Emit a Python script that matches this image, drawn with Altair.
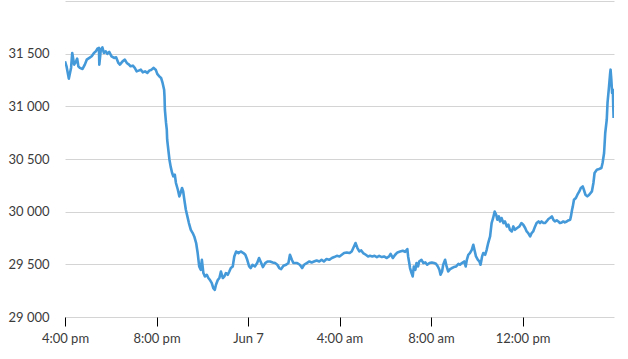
import altair as alt
import pandas as pd

# minutes after 4:00 pm, Jun 6
minutes = [
    0, 4, 10, 16, 19, 24, 29, 32, 35, 39, 46, 52, 57, 64, 70, 76, 81, 85, 89, 90,
    94, 98, 102, 107, 111, 116, 122, 129, 134, 140, 144, 151, 157, 162, 168, 172, 178, 183, 188, 193,
    199, 204, 210, 216, 221, 227, 232, 238, 242, 247, 252, 256, 260, 261, 262, 265, 267, 268, 271, 274,
    277, 281, 284, 288, 291, 296, 300, 303, 307, 310, 313, 317, 321, 325, 330, 335, 339, 344, 348, 352,
    356, 359, 363, 367, 372, 376, 380, 385, 389, 393, 396, 401, 405, 409, 414, 418, 422, 427, 431, 435,
    440, 444, 449, 455, 461, 468, 473, 478, 483, 487, 492, 498, 504, 509, 513, 519, 525, 531, 538, 545,
    551, 557, 562, 567, 573, 580, 586, 590, 595, 599, 603, 609, 616, 622, 627, 634, 641, 647, 653, 660,
    667, 673, 679, 686, 693, 700, 706, 713, 720, 726, 732, 739, 746, 752, 758, 762, 767, 772, 777, 782,
    789, 795, 800, 806, 812, 818, 824, 831, 837, 844, 850, 854, 860, 866, 872, 879, 886, 892, 898, 900,
    903, 905, 909, 912, 915, 919, 922, 926, 929, 935, 940, 945, 950, 956, 962, 968, 973, 978, 982, 985,
    989, 992, 997, 1001, 1005, 1010, 1015, 1020, 1026, 1032, 1036, 1041, 1047, 1051, 1054, 1058, 1062, 1067, 1071, 1075,
    1078, 1083, 1087, 1090, 1094, 1097, 1102, 1106, 1110, 1115, 1119, 1123, 1127, 1131, 1134, 1138, 1141, 1145, 1150, 1154,
    1159, 1163, 1167, 1172, 1176, 1180, 1186, 1192, 1197, 1202, 1207, 1211, 1215, 1220, 1224, 1228, 1233, 1237, 1242, 1246,
    1250, 1255, 1259, 1263, 1268, 1272, 1277, 1281, 1285, 1290, 1294, 1298, 1303, 1307, 1311, 1316, 1320, 1325, 1327, 1330,
    1332, 1335, 1340, 1344, 1349, 1353, 1358, 1361, 1365, 1370, 1375, 1382, 1386, 1389, 1395, 1401, 1407, 1410, 1414, 1417,
    1421, 1423, 1427, 1430, 1431, 1433, 1435, 1437, 1438, 1439,
]

values = [
    31427, 31380, 31263, 31367, 31507, 31396, 31427, 31453, 31380, 31365, 31355, 31396, 31443, 31460, 31475, 31507, 31522, 31548, 31555, 31396,
    31538, 31560, 31507, 31522, 31498, 31517, 31475, 31460, 31465, 31412, 31396, 31427, 31443, 31412, 31396, 31380, 31386, 31365, 31332, 31339,
    31348, 31323, 31332, 31317, 31339, 31348, 31365, 31348, 31308, 31285, 31270, 31222, 31158, 31095, 30968, 30842, 30778, 30683, 30588, 30493,
    30430, 30367, 30335, 30351, 30272, 30208, 30145, 30177, 30225, 30192, 30113, 30018, 29955, 29892, 29828, 29797, 29765, 29702, 29607, 29480,
    29448, 29543, 29417, 29385, 29401, 29370, 29353, 29322, 29275, 29258, 29306, 29353, 29370, 29432, 29370, 29385, 29417, 29401, 29432, 29465,
    29480, 29575, 29622, 29607, 29622, 29607, 29591, 29543, 29480, 29465, 29496, 29480, 29512, 29560, 29527, 29474, 29512, 29527, 29527, 29518,
    29512, 29496, 29465, 29455, 29486, 29496, 29512, 29591, 29543, 29512, 29512, 29512, 29496, 29465, 29496, 29512, 29527, 29518, 29527, 29537,
    29527, 29543, 29527, 29550, 29543, 29560, 29569, 29581, 29575, 29591, 29607, 29613, 29607, 29622, 29670, 29702, 29655, 29622, 29632, 29607,
    29591, 29575, 29581, 29575, 29581, 29569, 29581, 29569, 29575, 29560, 29575, 29600, 29560, 29591, 29613, 29622, 29629, 29619, 29645, 29575,
    29512, 29465, 29417, 29385, 29480, 29448, 29512, 29480, 29527, 29543, 29512, 29518, 29496, 29512, 29518, 29512, 29505, 29480, 29448, 29401,
    29432, 29496, 29543, 29480, 29432, 29455, 29465, 29474, 29480, 29505, 29496, 29512, 29527, 29480, 29543, 29591, 29607, 29638, 29686, 29622,
    29575, 29543, 29527, 29496, 29575, 29607, 29591, 29638, 29702, 29765, 29892, 29940, 30002, 29971, 29923, 29955, 29907, 29940, 29892, 29907,
    29860, 29876, 29828, 29812, 29860, 29828, 29845, 29860, 29892, 29876, 29845, 29812, 29797, 29765, 29797, 29812, 29860, 29892, 29907, 29892,
    29907, 29892, 29892, 29907, 29930, 29940, 29955, 29923, 29907, 29917, 29907, 29892, 29898, 29907, 29898, 29907, 29917, 29923, 29955, 30018,
    30050, 30113, 30130, 30161, 30192, 30225, 30240, 30208, 30161, 30145, 30161, 30192, 30272, 30367, 30398, 30405, 30415, 30462, 30557, 30747,
    30873, 31032, 31190, 31317, 31348, 31253, 31127, 31158, 31000, 30890,
]

y_ticks = [29000, 29500, 30000, 30500, 31000, 31500, 32000]
x_tick_hours = [0, 4, 8, 12, 16, 20]  # hours after 4:00 pm Jun 6

base = pd.Timestamp("2021-06-06 16:00", tz="UTC")
ms0 = int(base.value // 1_000_000)
df = pd.DataFrame({
    "time": [ms0 + m * 60_000 for m in minutes],
    "value": values,
})
x_ticks = [ms0 + h * 3_600_000 for h in x_tick_hours]
x_domain = [ms0, ms0 + 24 * 3_600_000]

label_color = "#3b3b3b"

chart = (
    alt.Chart(df)
    .mark_line(color="#4499d9", strokeWidth=2.6, strokeJoin="round", clip=True)
    .encode(
        x=alt.X(
            "time:T",
            scale=alt.Scale(type="utc", domain=x_domain, nice=False),
            axis=alt.Axis(
                title=None,
                values=x_ticks,
                labelExpr="utcFormat(datum.value, '%H') == '00' ? utcFormat(datum.value, '%b %-d') : lower(utcFormat(datum.value, '%-I:%M %p'))",
                grid=False,
                domain=False,
                ticks=True,
                tickSize=9,
                tickColor="#000000",
                tickWidth=1,
                labelPadding=6,
                labelFont="Lato",
                labelFontSize=13,
                labelColor=label_color,
                labelAlign="center",
                labelFlush=False,
                labelOverlap=False,
            ),
        ),
        y=alt.Y(
            "value:Q",
            scale=alt.Scale(domain=[29000, 32000], nice=False, zero=False),
            axis=alt.Axis(
                title=None,
                values=y_ticks,
                labelExpr="datum.value >= 32000 ? '' : replace(format(datum.value, ','), ',', ' ')",
                grid=True,
                gridColor="#d4d4d4",
                gridWidth=1,
                domain=False,
                ticks=False,
                labelPadding=16,
                labelFont="Lato",
                labelFontSize=13,
                labelColor=label_color,
                labelBaseline="middle",
            ),
        ),
    )
    .properties(
        width=549,
        height=316,
        background="white",
        autosize=alt.AutoSizeParams(type="none"),
        padding={"left": 65, "top": 1, "right": 14, "bottom": 42},
    )
    .configure_view(strokeWidth=0, stroke="transparent")
)

chart.save("out.html", embed_options={"renderer": "svg", "actions": False})
